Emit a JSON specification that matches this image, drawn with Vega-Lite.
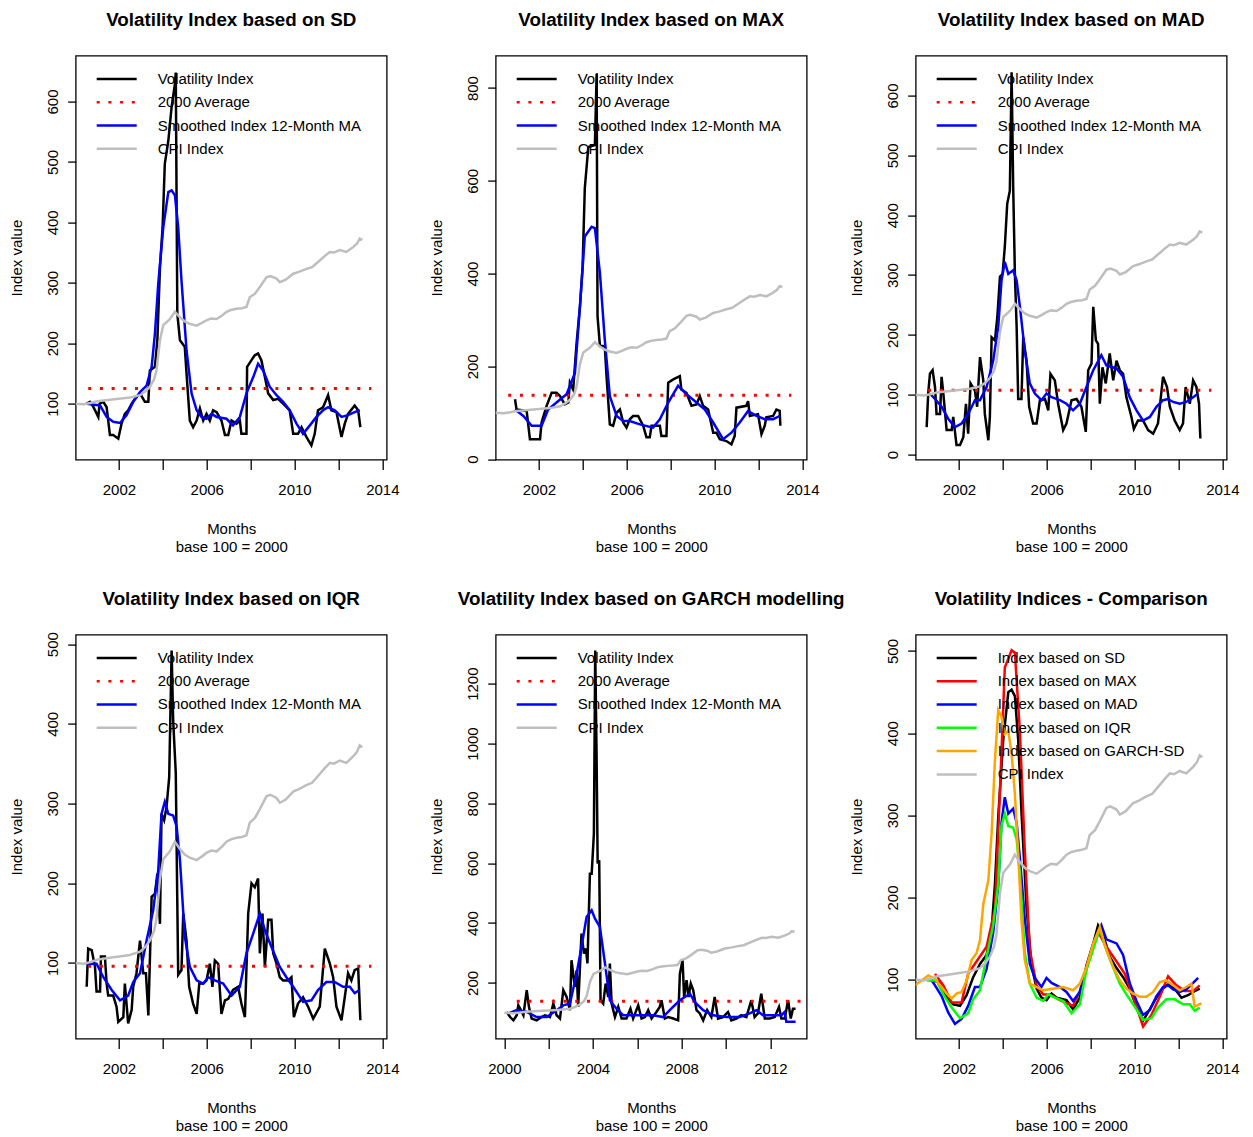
{
"$schema":"https://vega.github.io/schema/vega-lite/v6.json",
"padding":{"left":8.7,"top":9.6,"right":5,"bottom":0},
"config":{
 "font":"Liberation Sans",
 "view":{"stroke":"black","strokeWidth":1.3},
 "axis":{"grid":false,"domain":false,"tickColor":"black","tickWidth":1.3,"labelColor":"black","labelFontSize":15,"labelFont":"Liberation Sans","titleFont":"Liberation Sans","titleFontSize":15,"titleFontWeight":"normal","titleColor":"black","labelFlush":false,"labelOverlap":false,"labelBound":false},
 "title":{"fontSize":18.8,"fontWeight":"bold","color":"black","anchor":"middle","frame":"group","baseline":"alphabetic","offset":25.8,"font":"Liberation Sans"},
 "legend":{"title":null,"orient":"none","legendX":29.5,"legendY":11.8,"symbolType":"M-2,0H2","symbolSize":400,"symbolStrokeWidth":2.5,"labelFontSize":15,"labelFont":"Liberation Sans","labelColor":"black","labelOffset":29.5,"rowPadding":3.3,"padding":0,"labelLimit":400,"labelBaseline":"middle"}
},
"datasets":{
"cpi":[{"d":2000.0,"v":100},{"d":2000.4,"v":99},{"d":2000.7,"v":101},{"d":2001.0,"v":104},{"d":2001.5,"v":106},{"d":2002.0,"v":108},{"d":2002.5,"v":110},{"d":2002.96,"v":114},{"d":2003.2,"v":120},{"d":2003.41,"v":128},{"d":2003.6,"v":140},{"d":2003.71,"v":155},{"d":2003.87,"v":205},{"d":2004.02,"v":230},{"d":2004.32,"v":240},{"d":2004.55,"v":252},{"d":2004.78,"v":243},{"d":2005.0,"v":236},{"d":2005.23,"v":232},{"d":2005.54,"v":229},{"d":2005.8,"v":234},{"d":2005.99,"v":238},{"d":2006.2,"v":241},{"d":2006.45,"v":240},{"d":2006.7,"v":246},{"d":2006.9,"v":252},{"d":2007.1,"v":255},{"d":2007.36,"v":257},{"d":2007.6,"v":258},{"d":2007.81,"v":260},{"d":2007.96,"v":276},{"d":2008.2,"v":282},{"d":2008.42,"v":293},{"d":2008.72,"v":309},{"d":2008.9,"v":311},{"d":2009.18,"v":307},{"d":2009.33,"v":301},{"d":2009.6,"v":305},{"d":2009.94,"v":315},{"d":2010.2,"v":318},{"d":2010.54,"v":323},{"d":2010.8,"v":326},{"d":2011.15,"v":337},{"d":2011.4,"v":345},{"d":2011.61,"v":351},{"d":2011.8,"v":350},{"d":2012.06,"v":354},{"d":2012.36,"v":351},{"d":2012.67,"v":359},{"d":2012.85,"v":365},{"d":2012.97,"v":373},{"d":2013.09,"v":371}],
"avg":[{"p":"SD","d":2000.6,"d2":2013.5,"v":125},{"p":"MAX","d":2000.6,"d2":2013.5,"v":137.5},{"p":"MAD","d":2000.6,"d2":2013.5,"v":107.4},{"p":"IQR","d":2000.6,"d2":2013.5,"v":95.8},{"p":"GARCH","d":2000.56,"d2":2014.5,"v":139}],
"vol":[
{"p":"SD","d":2000.53,"v":100},{"p":"SD","d":2000.68,"v":103},{"p":"SD","d":2000.83,"v":95},{"p":"SD","d":2001.06,"v":78},{"p":"SD","d":2001.12,"v":100},{"p":"SD","d":2001.29,"v":103},{"p":"SD","d":2001.44,"v":94},{"p":"SD","d":2001.59,"v":48},{"p":"SD","d":2001.74,"v":48},{"p":"SD","d":2001.97,"v":42},{"p":"SD","d":2002.12,"v":67},{"p":"SD","d":2002.27,"v":83},{"p":"SD","d":2002.42,"v":89},{"p":"SD","d":2002.58,"v":100},{"p":"SD","d":2002.73,"v":108},{"p":"SD","d":2002.96,"v":117},{"p":"SD","d":2003.18,"v":103},{"p":"SD","d":2003.34,"v":103},{"p":"SD","d":2003.41,"v":155},{"p":"SD","d":2003.64,"v":161},{"p":"SD","d":2003.75,"v":205},{"p":"SD","d":2003.87,"v":326},{"p":"SD","d":2003.99,"v":392},{"p":"SD","d":2004.09,"v":497},{"p":"SD","d":2004.25,"v":535},{"p":"SD","d":2004.4,"v":591},{"p":"SD","d":2004.55,"v":629},{"p":"SD","d":2004.59,"v":648},{"p":"SD","d":2004.66,"v":249},{"p":"SD","d":2004.78,"v":205},{"p":"SD","d":2005.0,"v":194},{"p":"SD","d":2005.08,"v":150},{"p":"SD","d":2005.23,"v":72},{"p":"SD","d":2005.38,"v":61},{"p":"SD","d":2005.54,"v":72},{"p":"SD","d":2005.69,"v":92},{"p":"SD","d":2005.84,"v":72},{"p":"SD","d":2005.99,"v":83},{"p":"SD","d":2006.14,"v":72},{"p":"SD","d":2006.29,"v":89},{"p":"SD","d":2006.45,"v":86},{"p":"SD","d":2006.67,"v":72},{"p":"SD","d":2006.83,"v":48},{"p":"SD","d":2006.98,"v":48},{"p":"SD","d":2007.13,"v":72},{"p":"SD","d":2007.36,"v":67},{"p":"SD","d":2007.51,"v":72},{"p":"SD","d":2007.58,"v":50},{"p":"SD","d":2007.81,"v":50},{"p":"SD","d":2007.84,"v":161},{"p":"SD","d":2008.04,"v":172},{"p":"SD","d":2008.19,"v":180},{"p":"SD","d":2008.34,"v":183},{"p":"SD","d":2008.49,"v":172},{"p":"SD","d":2008.65,"v":144},{"p":"SD","d":2008.8,"v":117},{"p":"SD","d":2009.03,"v":106},{"p":"SD","d":2009.25,"v":108},{"p":"SD","d":2009.48,"v":100},{"p":"SD","d":2009.78,"v":89},{"p":"SD","d":2009.94,"v":50},{"p":"SD","d":2010.16,"v":50},{"p":"SD","d":2010.32,"v":61},{"p":"SD","d":2010.54,"v":45},{"p":"SD","d":2010.77,"v":31},{"p":"SD","d":2010.92,"v":50},{"p":"SD","d":2011.07,"v":89},{"p":"SD","d":2011.3,"v":94},{"p":"SD","d":2011.53,"v":114},{"p":"SD","d":2011.68,"v":89},{"p":"SD","d":2011.91,"v":86},{"p":"SD","d":2012.14,"v":45},{"p":"SD","d":2012.29,"v":67},{"p":"SD","d":2012.44,"v":83},{"p":"SD","d":2012.74,"v":97},{"p":"SD","d":2012.9,"v":89},{"p":"SD","d":2013.0,"v":61},
{"p":"MAX","d":2000.91,"v":129},{"p":"MAX","d":2000.98,"v":107},{"p":"MAX","d":2001.44,"v":104},{"p":"MAX","d":2001.59,"v":43},{"p":"MAX","d":2002.05,"v":43},{"p":"MAX","d":2002.12,"v":79},{"p":"MAX","d":2002.35,"v":115},{"p":"MAX","d":2002.58,"v":143},{"p":"MAX","d":2002.8,"v":143},{"p":"MAX","d":2002.96,"v":136},{"p":"MAX","d":2003.18,"v":118},{"p":"MAX","d":2003.34,"v":122},{"p":"MAX","d":2003.41,"v":165},{"p":"MAX","d":2003.56,"v":150},{"p":"MAX","d":2003.71,"v":247},{"p":"MAX","d":2003.87,"v":330},{"p":"MAX","d":2003.99,"v":415},{"p":"MAX","d":2004.09,"v":584},{"p":"MAX","d":2004.25,"v":673},{"p":"MAX","d":2004.55,"v":677},{"p":"MAX","d":2004.63,"v":831},{"p":"MAX","d":2004.67,"v":308},{"p":"MAX","d":2004.78,"v":244},{"p":"MAX","d":2005.0,"v":244},{"p":"MAX","d":2005.08,"v":179},{"p":"MAX","d":2005.23,"v":75},{"p":"MAX","d":2005.38,"v":72},{"p":"MAX","d":2005.54,"v":100},{"p":"MAX","d":2005.69,"v":107},{"p":"MAX","d":2005.84,"v":79},{"p":"MAX","d":2005.99,"v":68},{"p":"MAX","d":2006.14,"v":86},{"p":"MAX","d":2006.29,"v":93},{"p":"MAX","d":2006.52,"v":93},{"p":"MAX","d":2006.75,"v":72},{"p":"MAX","d":2006.9,"v":47},{"p":"MAX","d":2007.05,"v":47},{"p":"MAX","d":2007.13,"v":72},{"p":"MAX","d":2007.51,"v":72},{"p":"MAX","d":2007.58,"v":50},{"p":"MAX","d":2007.81,"v":50},{"p":"MAX","d":2007.89,"v":165},{"p":"MAX","d":2008.12,"v":172},{"p":"MAX","d":2008.42,"v":179},{"p":"MAX","d":2008.49,"v":150},{"p":"MAX","d":2008.72,"v":143},{"p":"MAX","d":2008.95,"v":115},{"p":"MAX","d":2009.18,"v":118},{"p":"MAX","d":2009.33,"v":136},{"p":"MAX","d":2009.48,"v":115},{"p":"MAX","d":2009.71,"v":107},{"p":"MAX","d":2009.94,"v":57},{"p":"MAX","d":2010.09,"v":57},{"p":"MAX","d":2010.24,"v":43},{"p":"MAX","d":2010.54,"v":39},{"p":"MAX","d":2010.77,"v":32},{"p":"MAX","d":2010.92,"v":50},{"p":"MAX","d":2011.0,"v":111},{"p":"MAX","d":2011.45,"v":115},{"p":"MAX","d":2011.53,"v":125},{"p":"MAX","d":2011.61,"v":93},{"p":"MAX","d":2011.98,"v":97},{"p":"MAX","d":2012.14,"v":54},{"p":"MAX","d":2012.29,"v":72},{"p":"MAX","d":2012.36,"v":90},{"p":"MAX","d":2012.67,"v":93},{"p":"MAX","d":2012.82,"v":107},{"p":"MAX","d":2012.97,"v":104},{"p":"MAX","d":2013.0,"v":72},
{"p":"MAD","d":2000.53,"v":46},{"p":"MAD","d":2000.6,"v":102},{"p":"MAD","d":2000.68,"v":135},{"p":"MAD","d":2000.8,"v":141},{"p":"MAD","d":2000.91,"v":113},{"p":"MAD","d":2000.98,"v":68},{"p":"MAD","d":2001.14,"v":68},{"p":"MAD","d":2001.21,"v":130},{"p":"MAD","d":2001.29,"v":102},{"p":"MAD","d":2001.44,"v":41},{"p":"MAD","d":2001.67,"v":41},{"p":"MAD","d":2001.74,"v":63},{"p":"MAD","d":2001.89,"v":16},{"p":"MAD","d":2002.05,"v":16},{"p":"MAD","d":2002.2,"v":29},{"p":"MAD","d":2002.32,"v":85},{"p":"MAD","d":2002.42,"v":35},{"p":"MAD","d":2002.53,"v":119},{"p":"MAD","d":2002.73,"v":107},{"p":"MAD","d":2002.83,"v":80},{"p":"MAD","d":2002.96,"v":163},{"p":"MAD","d":2003.11,"v":124},{"p":"MAD","d":2003.18,"v":68},{"p":"MAD","d":2003.34,"v":24},{"p":"MAD","d":2003.41,"v":63},{"p":"MAD","d":2003.49,"v":196},{"p":"MAD","d":2003.64,"v":191},{"p":"MAD","d":2003.75,"v":230},{"p":"MAD","d":2003.87,"v":297},{"p":"MAD","d":2003.99,"v":302},{"p":"MAD","d":2004.09,"v":347},{"p":"MAD","d":2004.2,"v":419},{"p":"MAD","d":2004.32,"v":441},{"p":"MAD","d":2004.4,"v":639},{"p":"MAD","d":2004.47,"v":452},{"p":"MAD","d":2004.55,"v":302},{"p":"MAD","d":2004.63,"v":213},{"p":"MAD","d":2004.7,"v":93},{"p":"MAD","d":2004.85,"v":93},{"p":"MAD","d":2004.93,"v":196},{"p":"MAD","d":2005.08,"v":157},{"p":"MAD","d":2005.2,"v":80},{"p":"MAD","d":2005.38,"v":52},{"p":"MAD","d":2005.54,"v":52},{"p":"MAD","d":2005.69,"v":91},{"p":"MAD","d":2005.92,"v":93},{"p":"MAD","d":2006.07,"v":74},{"p":"MAD","d":2006.17,"v":135},{"p":"MAD","d":2006.37,"v":124},{"p":"MAD","d":2006.52,"v":85},{"p":"MAD","d":2006.75,"v":41},{"p":"MAD","d":2006.9,"v":52},{"p":"MAD","d":2007.13,"v":91},{"p":"MAD","d":2007.36,"v":93},{"p":"MAD","d":2007.58,"v":80},{"p":"MAD","d":2007.78,"v":38},{"p":"MAD","d":2007.89,"v":141},{"p":"MAD","d":2008.04,"v":152},{"p":"MAD","d":2008.12,"v":247},{"p":"MAD","d":2008.24,"v":191},{"p":"MAD","d":2008.34,"v":185},{"p":"MAD","d":2008.42,"v":85},{"p":"MAD","d":2008.54,"v":146},{"p":"MAD","d":2008.69,"v":119},{"p":"MAD","d":2008.87,"v":169},{"p":"MAD","d":2009.03,"v":124},{"p":"MAD","d":2009.18,"v":157},{"p":"MAD","d":2009.33,"v":141},{"p":"MAD","d":2009.48,"v":135},{"p":"MAD","d":2009.63,"v":96},{"p":"MAD","d":2009.86,"v":63},{"p":"MAD","d":2009.97,"v":43},{"p":"MAD","d":2010.16,"v":57},{"p":"MAD","d":2010.39,"v":57},{"p":"MAD","d":2010.62,"v":41},{"p":"MAD","d":2010.85,"v":35},{"p":"MAD","d":2011.07,"v":52},{"p":"MAD","d":2011.3,"v":130},{"p":"MAD","d":2011.48,"v":113},{"p":"MAD","d":2011.61,"v":80},{"p":"MAD","d":2011.83,"v":57},{"p":"MAD","d":2012.06,"v":41},{"p":"MAD","d":2012.21,"v":52},{"p":"MAD","d":2012.33,"v":113},{"p":"MAD","d":2012.52,"v":85},{"p":"MAD","d":2012.67,"v":124},{"p":"MAD","d":2012.82,"v":113},{"p":"MAD","d":2012.94,"v":85},{"p":"MAD","d":2013.0,"v":27},
{"p":"IQR","d":2000.53,"v":70},{"p":"IQR","d":2000.6,"v":118},{"p":"IQR","d":2000.76,"v":116},{"p":"IQR","d":2000.91,"v":95},{"p":"IQR","d":2000.98,"v":64},{"p":"IQR","d":2001.14,"v":64},{"p":"IQR","d":2001.18,"v":108},{"p":"IQR","d":2001.36,"v":108},{"p":"IQR","d":2001.44,"v":74},{"p":"IQR","d":2001.51,"v":59},{"p":"IQR","d":2001.74,"v":59},{"p":"IQR","d":2001.89,"v":45},{"p":"IQR","d":2001.97,"v":26},{"p":"IQR","d":2002.2,"v":32},{"p":"IQR","d":2002.27,"v":74},{"p":"IQR","d":2002.42,"v":24},{"p":"IQR","d":2002.58,"v":41},{"p":"IQR","d":2002.65,"v":70},{"p":"IQR","d":2002.8,"v":87},{"p":"IQR","d":2002.96,"v":128},{"p":"IQR","d":2003.11,"v":87},{"p":"IQR","d":2003.23,"v":87},{"p":"IQR","d":2003.34,"v":34},{"p":"IQR","d":2003.49,"v":183},{"p":"IQR","d":2003.64,"v":187},{"p":"IQR","d":2003.75,"v":212},{"p":"IQR","d":2003.87,"v":149},{"p":"IQR","d":2003.94,"v":287},{"p":"IQR","d":2004.06,"v":279},{"p":"IQR","d":2004.17,"v":296},{"p":"IQR","d":2004.29,"v":333},{"p":"IQR","d":2004.4,"v":492},{"p":"IQR","d":2004.47,"v":405},{"p":"IQR","d":2004.59,"v":338},{"p":"IQR","d":2004.66,"v":174},{"p":"IQR","d":2004.7,"v":85},{"p":"IQR","d":2004.85,"v":91},{"p":"IQR","d":2004.93,"v":162},{"p":"IQR","d":2005.08,"v":128},{"p":"IQR","d":2005.2,"v":70},{"p":"IQR","d":2005.38,"v":49},{"p":"IQR","d":2005.54,"v":36},{"p":"IQR","d":2005.66,"v":74},{"p":"IQR","d":2005.84,"v":74},{"p":"IQR","d":2005.99,"v":78},{"p":"IQR","d":2006.14,"v":99},{"p":"IQR","d":2006.26,"v":70},{"p":"IQR","d":2006.37,"v":103},{"p":"IQR","d":2006.52,"v":99},{"p":"IQR","d":2006.67,"v":36},{"p":"IQR","d":2006.83,"v":53},{"p":"IQR","d":2006.98,"v":55},{"p":"IQR","d":2007.2,"v":66},{"p":"IQR","d":2007.43,"v":70},{"p":"IQR","d":2007.58,"v":49},{"p":"IQR","d":2007.74,"v":32},{"p":"IQR","d":2007.89,"v":162},{"p":"IQR","d":2008.04,"v":200},{"p":"IQR","d":2008.19,"v":195},{"p":"IQR","d":2008.34,"v":206},{"p":"IQR","d":2008.42,"v":112},{"p":"IQR","d":2008.54,"v":162},{"p":"IQR","d":2008.65,"v":95},{"p":"IQR","d":2008.8,"v":154},{"p":"IQR","d":2008.95,"v":154},{"p":"IQR","d":2009.03,"v":112},{"p":"IQR","d":2009.18,"v":99},{"p":"IQR","d":2009.33,"v":82},{"p":"IQR","d":2009.48,"v":78},{"p":"IQR","d":2009.71,"v":78},{"p":"IQR","d":2009.86,"v":82},{"p":"IQR","d":2009.97,"v":32},{"p":"IQR","d":2010.16,"v":49},{"p":"IQR","d":2010.39,"v":57},{"p":"IQR","d":2010.62,"v":45},{"p":"IQR","d":2010.85,"v":30},{"p":"IQR","d":2011.15,"v":45},{"p":"IQR","d":2011.38,"v":118},{"p":"IQR","d":2011.61,"v":99},{"p":"IQR","d":2011.76,"v":82},{"p":"IQR","d":2011.91,"v":45},{"p":"IQR","d":2012.14,"v":28},{"p":"IQR","d":2012.29,"v":57},{"p":"IQR","d":2012.44,"v":87},{"p":"IQR","d":2012.59,"v":78},{"p":"IQR","d":2012.74,"v":91},{"p":"IQR","d":2012.9,"v":93},{"p":"IQR","d":2013.0,"v":28},
{"p":"GARCH","d":2000.11,"v":103},{"p":"GARCH","d":2000.26,"v":86},{"p":"GARCH","d":2000.41,"v":75},{"p":"GARCH","d":2000.56,"v":92},{"p":"GARCH","d":2000.63,"v":125},{"p":"GARCH","d":2000.75,"v":109},{"p":"GARCH","d":2000.86,"v":92},{"p":"GARCH","d":2001.01,"v":176},{"p":"GARCH","d":2001.11,"v":120},{"p":"GARCH","d":2001.23,"v":81},{"p":"GARCH","d":2001.46,"v":75},{"p":"GARCH","d":2001.68,"v":86},{"p":"GARCH","d":2001.83,"v":92},{"p":"GARCH","d":2002.06,"v":86},{"p":"GARCH","d":2002.21,"v":131},{"p":"GARCH","d":2002.36,"v":92},{"p":"GARCH","d":2002.51,"v":81},{"p":"GARCH","d":2002.66,"v":176},{"p":"GARCH","d":2002.81,"v":153},{"p":"GARCH","d":2002.96,"v":109},{"p":"GARCH","d":2003.03,"v":276},{"p":"GARCH","d":2003.18,"v":187},{"p":"GARCH","d":2003.26,"v":242},{"p":"GARCH","d":2003.33,"v":120},{"p":"GARCH","d":2003.48,"v":365},{"p":"GARCH","d":2003.59,"v":298},{"p":"GARCH","d":2003.68,"v":315},{"p":"GARCH","d":2003.75,"v":265},{"p":"GARCH","d":2003.86,"v":565},{"p":"GARCH","d":2003.94,"v":565},{"p":"GARCH","d":2004.04,"v":699},{"p":"GARCH","d":2004.1,"v":1311},{"p":"GARCH","d":2004.16,"v":966},{"p":"GARCH","d":2004.21,"v":599},{"p":"GARCH","d":2004.28,"v":610},{"p":"GARCH","d":2004.34,"v":142},{"p":"GARCH","d":2004.46,"v":131},{"p":"GARCH","d":2004.57,"v":198},{"p":"GARCH","d":2004.69,"v":153},{"p":"GARCH","d":2004.76,"v":265},{"p":"GARCH","d":2004.84,"v":131},{"p":"GARCH","d":2004.99,"v":86},{"p":"GARCH","d":2005.14,"v":120},{"p":"GARCH","d":2005.29,"v":81},{"p":"GARCH","d":2005.51,"v":81},{"p":"GARCH","d":2005.69,"v":114},{"p":"GARCH","d":2005.81,"v":81},{"p":"GARCH","d":2006.04,"v":125},{"p":"GARCH","d":2006.19,"v":81},{"p":"GARCH","d":2006.34,"v":86},{"p":"GARCH","d":2006.49,"v":109},{"p":"GARCH","d":2006.64,"v":81},{"p":"GARCH","d":2006.86,"v":103},{"p":"GARCH","d":2007.01,"v":120},{"p":"GARCH","d":2007.09,"v":142},{"p":"GARCH","d":2007.24,"v":81},{"p":"GARCH","d":2007.39,"v":86},{"p":"GARCH","d":2007.62,"v":81},{"p":"GARCH","d":2007.84,"v":75},{"p":"GARCH","d":2007.92,"v":231},{"p":"GARCH","d":2008.04,"v":276},{"p":"GARCH","d":2008.11,"v":153},{"p":"GARCH","d":2008.22,"v":209},{"p":"GARCH","d":2008.31,"v":153},{"p":"GARCH","d":2008.41,"v":198},{"p":"GARCH","d":2008.52,"v":176},{"p":"GARCH","d":2008.67,"v":109},{"p":"GARCH","d":2008.82,"v":98},{"p":"GARCH","d":2008.97,"v":75},{"p":"GARCH","d":2009.15,"v":109},{"p":"GARCH","d":2009.34,"v":86},{"p":"GARCH","d":2009.49,"v":153},{"p":"GARCH","d":2009.64,"v":81},{"p":"GARCH","d":2009.87,"v":86},{"p":"GARCH","d":2010.09,"v":103},{"p":"GARCH","d":2010.24,"v":75},{"p":"GARCH","d":2010.47,"v":81},{"p":"GARCH","d":2010.69,"v":92},{"p":"GARCH","d":2010.92,"v":86},{"p":"GARCH","d":2011.14,"v":142},{"p":"GARCH","d":2011.29,"v":86},{"p":"GARCH","d":2011.44,"v":98},{"p":"GARCH","d":2011.59,"v":164},{"p":"GARCH","d":2011.75,"v":81},{"p":"GARCH","d":2011.97,"v":81},{"p":"GARCH","d":2012.2,"v":86},{"p":"GARCH","d":2012.39,"v":120},{"p":"GARCH","d":2012.5,"v":81},{"p":"GARCH","d":2012.65,"v":81},{"p":"GARCH","d":2012.8,"v":142},{"p":"GARCH","d":2012.92,"v":81},{"p":"GARCH","d":2013.02,"v":114},{"p":"GARCH","d":2013.14,"v":114}],
"ma":[
{"p":"SD","d":2000.53,"v":100},{"p":"SD","d":2001.14,"v":97},{"p":"SD","d":2001.44,"v":78},{"p":"SD","d":2001.74,"v":70},{"p":"SD","d":2002.05,"v":68},{"p":"SD","d":2002.35,"v":81},{"p":"SD","d":2002.65,"v":103},{"p":"SD","d":2002.96,"v":119},{"p":"SD","d":2003.26,"v":130},{"p":"SD","d":2003.49,"v":161},{"p":"SD","d":2003.64,"v":216},{"p":"SD","d":2003.79,"v":298},{"p":"SD","d":2004.02,"v":392},{"p":"SD","d":2004.25,"v":450},{"p":"SD","d":2004.4,"v":453},{"p":"SD","d":2004.55,"v":445},{"p":"SD","d":2004.7,"v":392},{"p":"SD","d":2004.85,"v":304},{"p":"SD","d":2005.08,"v":188},{"p":"SD","d":2005.31,"v":117},{"p":"SD","d":2005.54,"v":89},{"p":"SD","d":2005.76,"v":78},{"p":"SD","d":2005.99,"v":75},{"p":"SD","d":2006.22,"v":83},{"p":"SD","d":2006.45,"v":78},{"p":"SD","d":2006.9,"v":75},{"p":"SD","d":2007.2,"v":64},{"p":"SD","d":2007.51,"v":78},{"p":"SD","d":2007.81,"v":117},{"p":"SD","d":2008.12,"v":144},{"p":"SD","d":2008.34,"v":166},{"p":"SD","d":2008.57,"v":155},{"p":"SD","d":2008.87,"v":128},{"p":"SD","d":2009.18,"v":114},{"p":"SD","d":2009.48,"v":103},{"p":"SD","d":2009.78,"v":89},{"p":"SD","d":2010.09,"v":67},{"p":"SD","d":2010.39,"v":50},{"p":"SD","d":2010.7,"v":64},{"p":"SD","d":2011.0,"v":78},{"p":"SD","d":2011.3,"v":89},{"p":"SD","d":2011.53,"v":94},{"p":"SD","d":2011.83,"v":89},{"p":"SD","d":2012.14,"v":78},{"p":"SD","d":2012.44,"v":81},{"p":"SD","d":2012.74,"v":86},{"p":"SD","d":2012.97,"v":89},
{"p":"MAX","d":2000.91,"v":107},{"p":"MAX","d":2001.29,"v":93},{"p":"MAX","d":2001.67,"v":72},{"p":"MAX","d":2002.12,"v":72},{"p":"MAX","d":2002.42,"v":107},{"p":"MAX","d":2002.8,"v":122},{"p":"MAX","d":2003.26,"v":140},{"p":"MAX","d":2003.64,"v":186},{"p":"MAX","d":2003.87,"v":330},{"p":"MAX","d":2004.09,"v":480},{"p":"MAX","d":2004.4,"v":501},{"p":"MAX","d":2004.55,"v":498},{"p":"MAX","d":2004.78,"v":401},{"p":"MAX","d":2005.0,"v":258},{"p":"MAX","d":2005.23,"v":136},{"p":"MAX","d":2005.54,"v":93},{"p":"MAX","d":2005.84,"v":82},{"p":"MAX","d":2006.14,"v":82},{"p":"MAX","d":2006.6,"v":75},{"p":"MAX","d":2007.2,"v":68},{"p":"MAX","d":2007.51,"v":86},{"p":"MAX","d":2007.89,"v":122},{"p":"MAX","d":2008.34,"v":158},{"p":"MAX","d":2008.72,"v":140},{"p":"MAX","d":2009.18,"v":122},{"p":"MAX","d":2009.56,"v":107},{"p":"MAX","d":2009.94,"v":79},{"p":"MAX","d":2010.39,"v":43},{"p":"MAX","d":2010.77,"v":57},{"p":"MAX","d":2011.15,"v":79},{"p":"MAX","d":2011.53,"v":104},{"p":"MAX","d":2011.91,"v":93},{"p":"MAX","d":2012.29,"v":86},{"p":"MAX","d":2012.67,"v":86},{"p":"MAX","d":2012.97,"v":93},
{"p":"MAD","d":2000.68,"v":102},{"p":"MAD","d":2000.91,"v":93},{"p":"MAD","d":2001.21,"v":80},{"p":"MAD","d":2001.51,"v":60},{"p":"MAD","d":2001.82,"v":46},{"p":"MAD","d":2002.12,"v":52},{"p":"MAD","d":2002.42,"v":68},{"p":"MAD","d":2002.73,"v":91},{"p":"MAD","d":2002.96,"v":91},{"p":"MAD","d":2003.26,"v":113},{"p":"MAD","d":2003.56,"v":157},{"p":"MAD","d":2003.79,"v":213},{"p":"MAD","d":2003.94,"v":291},{"p":"MAD","d":2004.09,"v":322},{"p":"MAD","d":2004.25,"v":302},{"p":"MAD","d":2004.47,"v":308},{"p":"MAD","d":2004.63,"v":291},{"p":"MAD","d":2004.78,"v":247},{"p":"MAD","d":2005.0,"v":174},{"p":"MAD","d":2005.23,"v":119},{"p":"MAD","d":2005.46,"v":102},{"p":"MAD","d":2005.76,"v":91},{"p":"MAD","d":2005.99,"v":102},{"p":"MAD","d":2006.22,"v":96},{"p":"MAD","d":2006.6,"v":91},{"p":"MAD","d":2006.9,"v":85},{"p":"MAD","d":2007.2,"v":74},{"p":"MAD","d":2007.51,"v":85},{"p":"MAD","d":2007.81,"v":113},{"p":"MAD","d":2008.12,"v":141},{"p":"MAD","d":2008.49,"v":166},{"p":"MAD","d":2008.72,"v":149},{"p":"MAD","d":2009.18,"v":144},{"p":"MAD","d":2009.48,"v":130},{"p":"MAD","d":2009.78,"v":96},{"p":"MAD","d":2010.09,"v":74},{"p":"MAD","d":2010.39,"v":57},{"p":"MAD","d":2010.7,"v":63},{"p":"MAD","d":2011.0,"v":80},{"p":"MAD","d":2011.3,"v":91},{"p":"MAD","d":2011.53,"v":93},{"p":"MAD","d":2011.76,"v":88},{"p":"MAD","d":2012.06,"v":85},{"p":"MAD","d":2012.36,"v":88},{"p":"MAD","d":2012.67,"v":96},{"p":"MAD","d":2012.9,"v":102},
{"p":"IQR","d":2000.53,"v":99},{"p":"IQR","d":2000.98,"v":99},{"p":"IQR","d":2001.29,"v":82},{"p":"IQR","d":2001.67,"v":66},{"p":"IQR","d":2002.05,"v":53},{"p":"IQR","d":2002.42,"v":59},{"p":"IQR","d":2002.65,"v":76},{"p":"IQR","d":2002.96,"v":87},{"p":"IQR","d":2003.26,"v":128},{"p":"IQR","d":2003.56,"v":166},{"p":"IQR","d":2003.79,"v":216},{"p":"IQR","d":2003.94,"v":287},{"p":"IQR","d":2004.09,"v":302},{"p":"IQR","d":2004.25,"v":287},{"p":"IQR","d":2004.47,"v":285},{"p":"IQR","d":2004.63,"v":271},{"p":"IQR","d":2004.78,"v":229},{"p":"IQR","d":2005.0,"v":133},{"p":"IQR","d":2005.23,"v":95},{"p":"IQR","d":2005.54,"v":78},{"p":"IQR","d":2005.84,"v":74},{"p":"IQR","d":2006.07,"v":82},{"p":"IQR","d":2006.37,"v":78},{"p":"IQR","d":2006.75,"v":74},{"p":"IQR","d":2007.13,"v":59},{"p":"IQR","d":2007.51,"v":70},{"p":"IQR","d":2007.81,"v":112},{"p":"IQR","d":2008.12,"v":137},{"p":"IQR","d":2008.42,"v":162},{"p":"IQR","d":2008.65,"v":141},{"p":"IQR","d":2008.95,"v":120},{"p":"IQR","d":2009.33,"v":95},{"p":"IQR","d":2009.63,"v":82},{"p":"IQR","d":2009.94,"v":70},{"p":"IQR","d":2010.39,"v":51},{"p":"IQR","d":2010.77,"v":53},{"p":"IQR","d":2011.07,"v":66},{"p":"IQR","d":2011.45,"v":76},{"p":"IQR","d":2011.83,"v":76},{"p":"IQR","d":2012.21,"v":70},{"p":"IQR","d":2012.52,"v":70},{"p":"IQR","d":2012.74,"v":62},{"p":"IQR","d":2012.97,"v":66},
{"p":"GARCH","d":2000.18,"v":98},{"p":"GARCH","d":2000.56,"v":109},{"p":"GARCH","d":2001.01,"v":103},{"p":"GARCH","d":2001.46,"v":86},{"p":"GARCH","d":2001.91,"v":86},{"p":"GARCH","d":2002.36,"v":109},{"p":"GARCH","d":2002.66,"v":125},{"p":"GARCH","d":2002.96,"v":131},{"p":"GARCH","d":2003.26,"v":231},{"p":"GARCH","d":2003.48,"v":320},{"p":"GARCH","d":2003.71,"v":420},{"p":"GARCH","d":2003.94,"v":443},{"p":"GARCH","d":2004.09,"v":415},{"p":"GARCH","d":2004.31,"v":387},{"p":"GARCH","d":2004.54,"v":265},{"p":"GARCH","d":2004.76,"v":142},{"p":"GARCH","d":2005.06,"v":114},{"p":"GARCH","d":2005.36,"v":92},{"p":"GARCH","d":2005.81,"v":92},{"p":"GARCH","d":2006.26,"v":92},{"p":"GARCH","d":2006.71,"v":92},{"p":"GARCH","d":2007.16,"v":86},{"p":"GARCH","d":2007.46,"v":109},{"p":"GARCH","d":2007.92,"v":142},{"p":"GARCH","d":2008.37,"v":164},{"p":"GARCH","d":2008.59,"v":136},{"p":"GARCH","d":2008.97,"v":109},{"p":"GARCH","d":2009.42,"v":92},{"p":"GARCH","d":2010.02,"v":86},{"p":"GARCH","d":2010.62,"v":86},{"p":"GARCH","d":2011.07,"v":98},{"p":"GARCH","d":2011.37,"v":109},{"p":"GARCH","d":2011.67,"v":92},{"p":"GARCH","d":2012.12,"v":92},{"p":"GARCH","d":2012.5,"v":92},{"p":"GARCH","d":2012.65,"v":103},{"p":"GARCH","d":2012.72,"v":70},{"p":"GARCH","d":2013.14,"v":70},
{"p":"GARCH-SD","d":2000.0,"v":93},{"p":"GARCH-SD","d":2000.3,"v":99},{"p":"GARCH-SD","d":2000.6,"v":105},{"p":"GARCH-SD","d":2000.91,"v":101},{"p":"GARCH-SD","d":2001.21,"v":91},{"p":"GARCH-SD","d":2001.44,"v":83},{"p":"GARCH-SD","d":2001.67,"v":77},{"p":"GARCH-SD","d":2001.89,"v":83},{"p":"GARCH-SD","d":2002.12,"v":85},{"p":"GARCH-SD","d":2002.35,"v":99},{"p":"GARCH-SD","d":2002.58,"v":124},{"p":"GARCH-SD","d":2002.8,"v":132},{"p":"GARCH-SD","d":2002.96,"v":148},{"p":"GARCH-SD","d":2003.11,"v":192},{"p":"GARCH-SD","d":2003.34,"v":221},{"p":"GARCH-SD","d":2003.49,"v":278},{"p":"GARCH-SD","d":2003.64,"v":367},{"p":"GARCH-SD","d":2003.79,"v":428},{"p":"GARCH-SD","d":2003.94,"v":420},{"p":"GARCH-SD","d":2004.09,"v":399},{"p":"GARCH-SD","d":2004.25,"v":403},{"p":"GARCH-SD","d":2004.4,"v":375},{"p":"GARCH-SD","d":2004.55,"v":326},{"p":"GARCH-SD","d":2004.7,"v":253},{"p":"GARCH-SD","d":2004.85,"v":172},{"p":"GARCH-SD","d":2005.0,"v":124},{"p":"GARCH-SD","d":2005.23,"v":95},{"p":"GARCH-SD","d":2005.54,"v":91},{"p":"GARCH-SD","d":2005.84,"v":87},{"p":"GARCH-SD","d":2006.29,"v":89},{"p":"GARCH-SD","d":2006.75,"v":91},{"p":"GARCH-SD","d":2007.2,"v":87},{"p":"GARCH-SD","d":2007.51,"v":95},{"p":"GARCH-SD","d":2007.81,"v":115},{"p":"GARCH-SD","d":2008.12,"v":144},{"p":"GARCH-SD","d":2008.42,"v":164},{"p":"GARCH-SD","d":2008.72,"v":136},{"p":"GARCH-SD","d":2009.03,"v":115},{"p":"GARCH-SD","d":2009.33,"v":99},{"p":"GARCH-SD","d":2009.63,"v":89},{"p":"GARCH-SD","d":2009.94,"v":83},{"p":"GARCH-SD","d":2010.24,"v":79},{"p":"GARCH-SD","d":2010.54,"v":79},{"p":"GARCH-SD","d":2010.85,"v":85},{"p":"GARCH-SD","d":2011.15,"v":97},{"p":"GARCH-SD","d":2011.45,"v":99},{"p":"GARCH-SD","d":2011.76,"v":93},{"p":"GARCH-SD","d":2012.06,"v":87},{"p":"GARCH-SD","d":2012.36,"v":91},{"p":"GARCH-SD","d":2012.59,"v":95},{"p":"GARCH-SD","d":2012.74,"v":67},{"p":"GARCH-SD","d":2013.05,"v":71}]
},
"bounds":"flush",
"columns":3,
"spacing":{"row":175,"column":109},
"resolve":{"scale":{"color":"independent"},"legend":{"color":"independent"}},
"concat":[
{"title":"Volatility Index based on SD","width":311,"height":404,
 "encoding":{
  "x":{"field":"d","type":"quantitative","scale":{"domain":[2000.03,2014.2],"nice":false,"zero":false},"axis":{"values":[2002,2004,2006,2008,2010,2012,2014],"format":"d","labelExpr":"datum.value % 4 === 2 ? datum.label : ''","title":["Months","base 100 = 2000"],"tickSize":10,"labelPadding":25.4,"labelBaseline":"alphabetic","titlePadding":36,"titleBaseline":"alphabetic","titleLineHeight":17.7}},
  "y":{"field":"v","type":"quantitative","scale":{"domain":[7.4,676],"nice":false,"zero":false},"axis":{"values":[100,200,300,400,500,600],"format":"d","title":"Index value","labelAngle":270,"labelAlign":"center","labelBaseline":"alphabetic","tickSize":8,"labelPadding":10.4,"titlePadding":23.6,"titleBaseline":"alphabetic","titleAngle":270}}},
 "layer":[
  {"data":{"name":"vol"},"transform":[{"filter":"datum.p === 'SD'"}],"mark":{"type":"line","strokeWidth":2.5,"clip":true},"encoding":{"color":{"datum":"Volatility Index","scale":{"domain":["Volatility Index","2000 Average","Smoothed Index 12-Month MA","CPI Index"],"range":["#000000","#FF0000","#0000FF","#BEBEBE"]},"legend":{"encode":{"symbols":{"update":{"strokeDash":{"signal":"datum.value === '2000 Average' ? [3, 8.7] : [1, 0]"}}}}}}}},
  {"data":{"name":"avg"},"transform":[{"filter":"datum.p === 'SD'"}],"mark":{"type":"rule","strokeWidth":3,"strokeDash":[3,8.7],"clip":true},"encoding":{"x2":{"field":"d2"},"color":{"datum":"2000 Average","scale":{"domain":["Volatility Index","2000 Average","Smoothed Index 12-Month MA","CPI Index"],"range":["#000000","#FF0000","#0000FF","#BEBEBE"]}}}},
  {"data":{"name":"ma"},"transform":[{"filter":"datum.p === 'SD'"}],"mark":{"type":"line","strokeWidth":2.5,"clip":true},"encoding":{"color":{"datum":"Smoothed Index 12-Month MA","scale":{"domain":["Volatility Index","2000 Average","Smoothed Index 12-Month MA","CPI Index"],"range":["#000000","#FF0000","#0000FF","#BEBEBE"]}}}},
  {"data":{"name":"cpi"},"mark":{"type":"line","strokeWidth":2.5,"clip":true},"encoding":{"color":{"datum":"CPI Index","scale":{"domain":["Volatility Index","2000 Average","Smoothed Index 12-Month MA","CPI Index"],"range":["#000000","#FF0000","#0000FF","#BEBEBE"]}}}}
 ]},
{"title":"Volatility Index based on MAX","width":311,"height":404,
 "encoding":{
  "x":{"field":"d","type":"quantitative","scale":{"domain":[2000.03,2014.2],"nice":false,"zero":false},"axis":{"values":[2002,2004,2006,2008,2010,2012,2014],"format":"d","labelExpr":"datum.value % 4 === 2 ? datum.label : ''","title":["Months","base 100 = 2000"],"tickSize":10,"labelPadding":25.4,"labelBaseline":"alphabetic","titlePadding":36,"titleBaseline":"alphabetic","titleLineHeight":17.7}},
  "y":{"field":"v","type":"quantitative","scale":{"domain":[-1,870],"nice":false,"zero":false},"axis":{"values":[0,200,400,600,800],"format":"d","title":"Index value","labelAngle":270,"labelAlign":"center","labelBaseline":"alphabetic","tickSize":8,"labelPadding":10.4,"titlePadding":23.6,"titleBaseline":"alphabetic","titleAngle":270}}},
 "layer":[
  {"data":{"name":"vol"},"transform":[{"filter":"datum.p === 'MAX'"}],"mark":{"type":"line","strokeWidth":2.5,"clip":true},"encoding":{"color":{"datum":"Volatility Index","scale":{"domain":["Volatility Index","2000 Average","Smoothed Index 12-Month MA","CPI Index"],"range":["#000000","#FF0000","#0000FF","#BEBEBE"]},"legend":{"encode":{"symbols":{"update":{"strokeDash":{"signal":"datum.value === '2000 Average' ? [3, 8.7] : [1, 0]"}}}}}}}},
  {"data":{"name":"avg"},"transform":[{"filter":"datum.p === 'MAX'"}],"mark":{"type":"rule","strokeWidth":3,"strokeDash":[3,8.7],"clip":true},"encoding":{"x2":{"field":"d2"},"color":{"datum":"2000 Average","scale":{"domain":["Volatility Index","2000 Average","Smoothed Index 12-Month MA","CPI Index"],"range":["#000000","#FF0000","#0000FF","#BEBEBE"]}}}},
  {"data":{"name":"ma"},"transform":[{"filter":"datum.p === 'MAX'"}],"mark":{"type":"line","strokeWidth":2.5,"clip":true},"encoding":{"color":{"datum":"Smoothed Index 12-Month MA","scale":{"domain":["Volatility Index","2000 Average","Smoothed Index 12-Month MA","CPI Index"],"range":["#000000","#FF0000","#0000FF","#BEBEBE"]}}}},
  {"data":{"name":"cpi"},"mark":{"type":"line","strokeWidth":2.5,"clip":true},"encoding":{"color":{"datum":"CPI Index","scale":{"domain":["Volatility Index","2000 Average","Smoothed Index 12-Month MA","CPI Index"],"range":["#000000","#FF0000","#0000FF","#BEBEBE"]}}}}
 ]},
{"title":"Volatility Index based on MAD","width":311,"height":404,
 "encoding":{
  "x":{"field":"d","type":"quantitative","scale":{"domain":[2000.03,2014.2],"nice":false,"zero":false},"axis":{"values":[2002,2004,2006,2008,2010,2012,2014],"format":"d","labelExpr":"datum.value % 4 === 2 ? datum.label : ''","title":["Months","base 100 = 2000"],"tickSize":10,"labelPadding":25.4,"labelBaseline":"alphabetic","titlePadding":36,"titleBaseline":"alphabetic","titleLineHeight":17.7}},
  "y":{"field":"v","type":"quantitative","scale":{"domain":[-8.3,666.7],"nice":false,"zero":false},"axis":{"values":[0,100,200,300,400,500,600],"format":"d","title":"Index value","labelAngle":270,"labelAlign":"center","labelBaseline":"alphabetic","tickSize":8,"labelPadding":10.4,"titlePadding":23.6,"titleBaseline":"alphabetic","titleAngle":270}}},
 "layer":[
  {"data":{"name":"vol"},"transform":[{"filter":"datum.p === 'MAD'"}],"mark":{"type":"line","strokeWidth":2.5,"clip":true},"encoding":{"color":{"datum":"Volatility Index","scale":{"domain":["Volatility Index","2000 Average","Smoothed Index 12-Month MA","CPI Index"],"range":["#000000","#FF0000","#0000FF","#BEBEBE"]},"legend":{"encode":{"symbols":{"update":{"strokeDash":{"signal":"datum.value === '2000 Average' ? [3, 8.7] : [1, 0]"}}}}}}}},
  {"data":{"name":"avg"},"transform":[{"filter":"datum.p === 'MAD'"}],"mark":{"type":"rule","strokeWidth":3,"strokeDash":[3,8.7],"clip":true},"encoding":{"x2":{"field":"d2"},"color":{"datum":"2000 Average","scale":{"domain":["Volatility Index","2000 Average","Smoothed Index 12-Month MA","CPI Index"],"range":["#000000","#FF0000","#0000FF","#BEBEBE"]}}}},
  {"data":{"name":"ma"},"transform":[{"filter":"datum.p === 'MAD'"}],"mark":{"type":"line","strokeWidth":2.5,"clip":true},"encoding":{"color":{"datum":"Smoothed Index 12-Month MA","scale":{"domain":["Volatility Index","2000 Average","Smoothed Index 12-Month MA","CPI Index"],"range":["#000000","#FF0000","#0000FF","#BEBEBE"]}}}},
  {"data":{"name":"cpi"},"mark":{"type":"line","strokeWidth":2.5,"clip":true},"encoding":{"color":{"datum":"CPI Index","scale":{"domain":["Volatility Index","2000 Average","Smoothed Index 12-Month MA","CPI Index"],"range":["#000000","#FF0000","#0000FF","#BEBEBE"]}}}}
 ]},
{"title":{"text":"Volatility Index based on IQR","offset":22.9},"width":311,"height":404,
 "encoding":{
  "x":{"field":"d","type":"quantitative","scale":{"domain":[2000.03,2014.2],"nice":false,"zero":false},"axis":{"values":[2002,2004,2006,2008,2010,2012,2014],"format":"d","labelExpr":"datum.value % 4 === 2 ? datum.label : ''","title":["Months","base 100 = 2000"],"tickSize":10,"labelPadding":25.4,"labelBaseline":"alphabetic","titlePadding":36,"titleBaseline":"alphabetic","titleLineHeight":17.7}},
  "y":{"field":"v","type":"quantitative","scale":{"domain":[5,512],"nice":false,"zero":false},"axis":{"values":[100,200,300,400,500],"format":"d","title":"Index value","labelAngle":270,"labelAlign":"center","labelBaseline":"alphabetic","tickSize":8,"labelPadding":10.4,"titlePadding":23.6,"titleBaseline":"alphabetic","titleAngle":270}}},
 "layer":[
  {"data":{"name":"vol"},"transform":[{"filter":"datum.p === 'IQR'"}],"mark":{"type":"line","strokeWidth":2.5,"clip":true},"encoding":{"color":{"datum":"Volatility Index","scale":{"domain":["Volatility Index","2000 Average","Smoothed Index 12-Month MA","CPI Index"],"range":["#000000","#FF0000","#0000FF","#BEBEBE"]},"legend":{"encode":{"symbols":{"update":{"strokeDash":{"signal":"datum.value === '2000 Average' ? [3, 8.7] : [1, 0]"}}}}}}}},
  {"data":{"name":"avg"},"transform":[{"filter":"datum.p === 'IQR'"}],"mark":{"type":"rule","strokeWidth":3,"strokeDash":[3,8.7],"clip":true},"encoding":{"x2":{"field":"d2"},"color":{"datum":"2000 Average","scale":{"domain":["Volatility Index","2000 Average","Smoothed Index 12-Month MA","CPI Index"],"range":["#000000","#FF0000","#0000FF","#BEBEBE"]}}}},
  {"data":{"name":"ma"},"transform":[{"filter":"datum.p === 'IQR'"}],"mark":{"type":"line","strokeWidth":2.5,"clip":true},"encoding":{"color":{"datum":"Smoothed Index 12-Month MA","scale":{"domain":["Volatility Index","2000 Average","Smoothed Index 12-Month MA","CPI Index"],"range":["#000000","#FF0000","#0000FF","#BEBEBE"]}}}},
  {"data":{"name":"cpi"},"mark":{"type":"line","strokeWidth":2.5,"clip":true},"encoding":{"color":{"datum":"CPI Index","scale":{"domain":["Volatility Index","2000 Average","Smoothed Index 12-Month MA","CPI Index"],"range":["#000000","#FF0000","#0000FF","#BEBEBE"]}}}}
 ]},
{"title":"Volatility Index based on GARCH modelling","width":311,"height":404,
 "encoding":{
  "x":{"field":"d","type":"quantitative","scale":{"domain":[1999.61,2013.64],"nice":false,"zero":false},"axis":{"values":[2000,2002,2004,2006,2008,2010,2012],"format":"d","labelExpr":"datum.value % 4 === 0 ? datum.label : ''","title":["Months","base 100 = 2000"],"tickSize":10,"labelPadding":25.4,"labelBaseline":"alphabetic","titlePadding":36,"titleBaseline":"alphabetic","titleLineHeight":17.7}},
  "y":{"field":"v","type":"quantitative","scale":{"domain":[14,1364],"nice":false,"zero":false},"axis":{"values":[200,400,600,800,1000,1200],"format":"d","title":"Index value","labelAngle":270,"labelAlign":"center","labelBaseline":"alphabetic","tickSize":8,"labelPadding":10.4,"titlePadding":23.6,"titleBaseline":"alphabetic","titleAngle":270}}},
 "layer":[
  {"data":{"name":"vol"},"transform":[{"filter":"datum.p === 'GARCH'"}],"mark":{"type":"line","strokeWidth":2.5,"clip":true},"encoding":{"color":{"datum":"Volatility Index","scale":{"domain":["Volatility Index","2000 Average","Smoothed Index 12-Month MA","CPI Index"],"range":["#000000","#FF0000","#0000FF","#BEBEBE"]},"legend":{"encode":{"symbols":{"update":{"strokeDash":{"signal":"datum.value === '2000 Average' ? [3, 8.7] : [1, 0]"}}}}}}}},
  {"data":{"name":"avg"},"transform":[{"filter":"datum.p === 'GARCH'"}],"mark":{"type":"rule","strokeWidth":3,"strokeDash":[3,8.7],"clip":true},"encoding":{"x2":{"field":"d2"},"color":{"datum":"2000 Average","scale":{"domain":["Volatility Index","2000 Average","Smoothed Index 12-Month MA","CPI Index"],"range":["#000000","#FF0000","#0000FF","#BEBEBE"]}}}},
  {"data":{"name":"ma"},"transform":[{"filter":"datum.p === 'GARCH'"}],"mark":{"type":"line","strokeWidth":2.5,"clip":true},"encoding":{"color":{"datum":"Smoothed Index 12-Month MA","scale":{"domain":["Volatility Index","2000 Average","Smoothed Index 12-Month MA","CPI Index"],"range":["#000000","#FF0000","#0000FF","#BEBEBE"]}}}},
  {"data":{"name":"cpi"},"mark":{"type":"line","strokeWidth":2.5,"clip":true},"encoding":{"color":{"datum":"CPI Index","scale":{"domain":["Volatility Index","2000 Average","Smoothed Index 12-Month MA","CPI Index"],"range":["#000000","#FF0000","#0000FF","#BEBEBE"]}}}}
 ]},
{"title":"Volatility Indices - Comparison","width":311,"height":404,
 "encoding":{
  "x":{"field":"d","type":"quantitative","scale":{"domain":[2000.03,2014.2],"nice":false,"zero":false},"axis":{"values":[2002,2004,2006,2008,2010,2012,2014],"format":"d","labelExpr":"datum.value % 4 === 2 ? datum.label : ''","title":["Months","base 100 = 2000"],"tickSize":10,"labelPadding":25.4,"labelBaseline":"alphabetic","titlePadding":36,"titleBaseline":"alphabetic","titleLineHeight":17.7}},
  "y":{"field":"v","type":"quantitative","scale":{"domain":[28.2,520],"nice":false,"zero":false},"axis":{"values":[100,200,300,400,500],"format":"d","title":"Index value","labelAngle":270,"labelAlign":"center","labelBaseline":"alphabetic","tickSize":8,"labelPadding":10.4,"titlePadding":23.6,"titleBaseline":"alphabetic","titleAngle":270}}},
 "layer":[
  {"data":{"name":"ma"},"transform":[{"filter":"datum.p !== 'GARCH'"}],"mark":{"type":"line","strokeWidth":2.5,"clip":true},"encoding":{"color":{"field":"p","type":"nominal","scale":{"domain":["SD","MAX","MAD","IQR","GARCH-SD","CPI"],"range":["#000000","#FF0000","#0000FF","#00FF00","#FFA500","#BEBEBE"]},"legend":{"labelExpr":"datum.label === 'CPI' ? 'CPI Index' : 'Index based on ' + datum.label"}}}},
  {"data":{"name":"cpi"},"mark":{"type":"line","strokeWidth":2.5,"clip":true},"encoding":{"color":{"datum":"CPI","scale":{"domain":["SD","MAX","MAD","IQR","GARCH-SD","CPI"],"range":["#000000","#FF0000","#0000FF","#00FF00","#FFA500","#BEBEBE"]}}}}
 ]}
]
}
